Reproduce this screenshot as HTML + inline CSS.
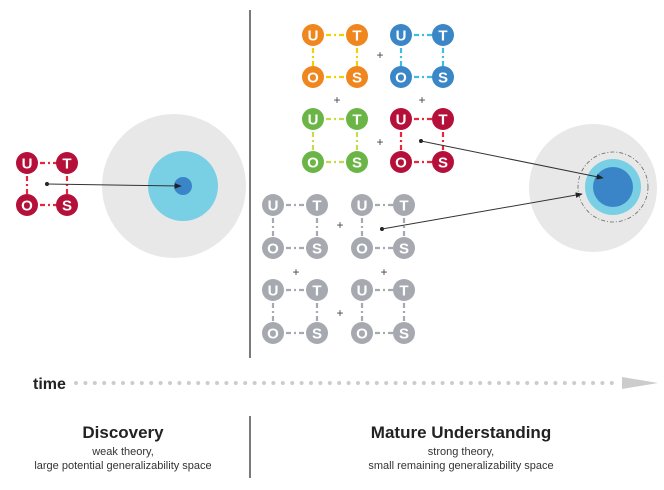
<!DOCTYPE html>
<html><head><meta charset="utf-8">
<style>
html,body{margin:0;padding:0;background:#fff;}
svg{display:block;font-family:"Liberation Sans",sans-serif;}
</style></head>
<body>
<svg id="s" width="664" height="490" viewBox="0 0 664 490">
<defs>
<marker id="ah" viewBox="0 0 10 10" refX="9" refY="5" markerWidth="7" markerHeight="7" orient="auto"><path d="M0,1 L10,5 L0,9 Z" fill="#222"/></marker>
</defs>
<line x1="250" y1="10" x2="250" y2="358" stroke="#333" stroke-width="1.3"/>
<line x1="250" y1="416" x2="250" y2="478" stroke="#333" stroke-width="1.3"/>
<g>
<circle cx="174" cy="186" r="72" fill="#e8e8e8"/>
<circle cx="183" cy="186" r="35" fill="#79cfe3"/>
<circle cx="183" cy="186" r="9" fill="#3a85c7"/>
</g>
<g>
<circle cx="593" cy="188" r="64" fill="#e8e8e8"/>
<circle cx="613" cy="187" r="35" fill="none" stroke="#666" stroke-width="0.8" stroke-dasharray="4 2 1 2"/>
<circle cx="613" cy="187" r="28" fill="#79cfe3"/>
<circle cx="613" cy="187" r="20" fill="#3a85c7"/>
</g>
<g id="quads"></g>
<g id="arrows"></g>
<g>
<text x="33" y="389" font-size="16" font-weight="bold" fill="#222">time</text>
<g id="dots"></g>
<path d="M622,377 L658,383 L622,389 Z" fill="#ccc"/>
</g>
<g text-anchor="middle" fill="#222">
<text x="123" y="438" font-size="17" font-weight="bold">Discovery</text>
<text x="123" y="455" font-size="11" fill="#333">weak theory,</text>
<text x="123" y="469" font-size="11" fill="#333">large potential generalizability space</text>
</g>
<g text-anchor="middle" fill="#222">
<text x="461" y="438" font-size="17" font-weight="bold">Mature Understanding</text>
<text x="461" y="455" font-size="11" fill="#333">strong theory,</text>
<text x="461" y="469" font-size="11" fill="#333">small remaining generalizability space</text>
</g>
</svg>
<script>
const NS="http://www.w3.org/2000/svg";
const quadNames=["discovery","orange","blue","green","red","gray1","gray2","gray3","gray4"];
const quadX=[27,313,401,313,401,273,362,273,362];
const quadY=[163,35,35,119,119,205,205,290,290];
const quadW=[40,44,42,44,42,44,42,44,42];
const quadH=[42,42,42,43,43,43,43,43,43];
const nodeFill=["#b5103a","#f0861e","#3b86c6","#6ab545","#b5103a","#a6aab0","#a6aab0","#a6aab0","#a6aab0"];
const linkFill=["#e8283a","#f5d000","#3bbde8","#c5dc4a","#e8283a","#a6aab0","#a6aab0","#a6aab0","#a6aab0"];
const plusX=[380,337,422,380,340,296,384,340];
const plusY=[55,100,100,142,225,272,272,313];
const q=document.getElementById('quads');
function mk(t,a,p){const e=document.createElementNS(NS,t);for(const k in a)e.setAttribute(k,a[k]);p.appendChild(e);return e;}
quadNames.forEach((n,i)=>{
  const g=mk('g',{},q);
  
  
  const x=quadX[i],y=quadY[i],w=quadW[i],h=quadH[i],c=linkFill[i];
  const st={stroke:c,'stroke-width':2.2,'stroke-dasharray':'5 3 2 3'};
  mk('line',Object.assign({x1:x,y1:y,x2:x+w,y2:y},st),g);
  mk('line',Object.assign({x1:x,y1:y+h,x2:x+w,y2:y+h},st),g);
  mk('line',Object.assign({x1:x,y1:y,x2:x,y2:y+h},st),g);
  mk('line',Object.assign({x1:x+w,y1:y,x2:x+w,y2:y+h},st),g);
  [["U",x,y],["T",x+w,y],["O",x,y+h],["S",x+w,y+h]].forEach(([L,cx,cy])=>{
    mk('circle',{cx:cx,cy:cy,r:11,fill:nodeFill[i]},g);
    const t=mk('text',{x:cx,y:cy+5.5,'text-anchor':'middle','font-size':15,'font-weight':'bold',fill:'#fff'},g);
    t.textContent=L;
  });
});
plusX.forEach((px,i)=>{
  const t=mk('text',{x:px,y:plusY[i]+4,'text-anchor':'middle','font-size':12,fill:'#444'},q);
  
  
  t.textContent='+';
});
const a=document.getElementById('arrows');
const arrFrom=[[47,184],[421,141],[382,229]];
const arrTo=[[181,186],[603,178],[582,194]];
arrFrom.forEach((f,i)=>{
  mk('circle',{cx:f[0],cy:f[1],r:2,fill:'#222'},a);
  const l=mk('line',{x1:f[0],y1:f[1],x2:arrTo[i][0],y2:arrTo[i][1],stroke:'#333','stroke-width':1,'marker-end':'url(#ah)'},a);
  
  
});
const d=document.getElementById('dots');
for(let x=76;x<620;x+=9.4){mk('circle',{cx:x,cy:383,r:2,fill:'#ccc'},d);}
</script>
</body></html>
